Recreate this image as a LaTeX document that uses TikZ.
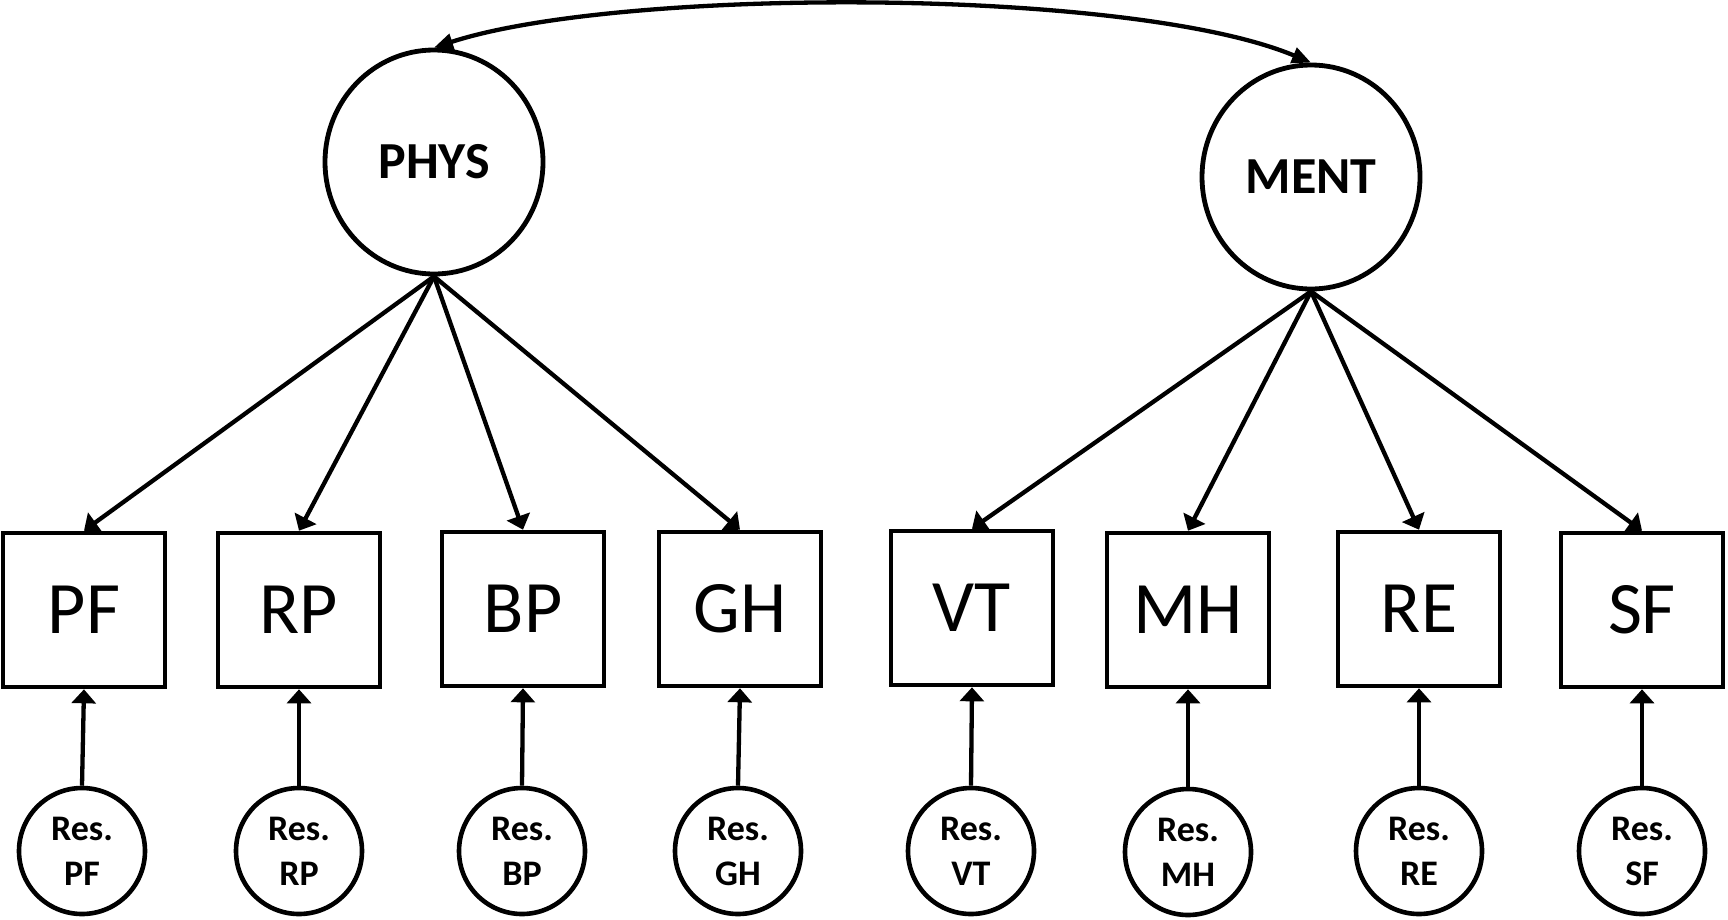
\documentclass[tikz,border=0pt]{standalone}
\usepackage{fontspec}
\setmainfont{Carlito}
\usetikzlibrary{arrows.meta,shapes.geometric}

\begin{document}
\begin{tikzpicture}[x=1pt,y=-1pt,
  latent/.style={draw, ellipse, line width=4.8pt, inner sep=0pt,
    minimum width=218pt, minimum height=224pt,
    font=\fontsize{52}{60}\selectfont\bfseries},
  indicator/.style={draw, rectangle, line width=4.6pt, inner sep=0pt,
    minimum width=162pt, minimum height=154pt,
    font=\fontsize{74}{80}\selectfont},
  resid/.style={draw, circle, line width=4.6pt, inner sep=0pt,
    minimum size=126pt, align=center,
    font=\fontsize{36}{45}\selectfont\bfseries},
  loading/.style={line width=4.3pt, -{Triangle[length=14pt,width=24pt]}},
  cov/.style={line width=4.3pt, {Triangle[length=19pt,width=16pt]}-{Triangle[length=19pt,width=16pt]}}
]
\useasboundingbox (0,0) rectangle (1728,919);

% latent factors
\node[latent] (phys) at (434,162) {PHYS};
\node[latent] (ment) at (1311,177) {MENT};

% observed scales
\node[indicator] (pf) at (84,610)   {PF};
\node[indicator] (rp) at (299,610)  {RP};
\node[indicator] (bp) at (523,609)  {BP};
\node[indicator] (gh) at (740,609)  {GH};
\node[indicator] (vt) at (972,608)  {VT};
\node[indicator] (mh) at (1188,610) {MH};
\node[indicator] (re) at (1419,609) {RE};
\node[indicator] (sf) at (1642,610) {SF};

% residual terms
\node[resid] (rpf) at (82,851)   {Res.\\PF};
\node[resid] (rrp) at (299,851)  {Res.\\RP};
\node[resid] (rbp) at (522,851)  {Res.\\BP};
\node[resid] (rgh) at (738,851)  {Res.\\GH};
\node[resid] (rvt) at (971,851)  {Res.\\VT};
\node[resid] (rmh) at (1188,852) {Res.\\MH};
\node[resid] (rre) at (1419,851) {Res.\\RE};
\node[resid] (rsf) at (1642,851) {Res.\\SF};

% factor loadings
\foreach \b in {pf,rp,bp,gh} \draw[loading] (phys.south) -- (\b.north);
\foreach \b in {vt,mh,re,sf} \draw[loading] (ment.south) -- (\b.north);

% residual paths
\foreach \b in {pf,rp,bp,gh,vt,mh,re,sf} \draw[loading] (r\b.north) -- (\b.south);

% factor covariance
\draw[cov] (phys.north) .. controls (620,-13) and (1130,-13) .. (ment.north);
\end{tikzpicture}
\end{document}
